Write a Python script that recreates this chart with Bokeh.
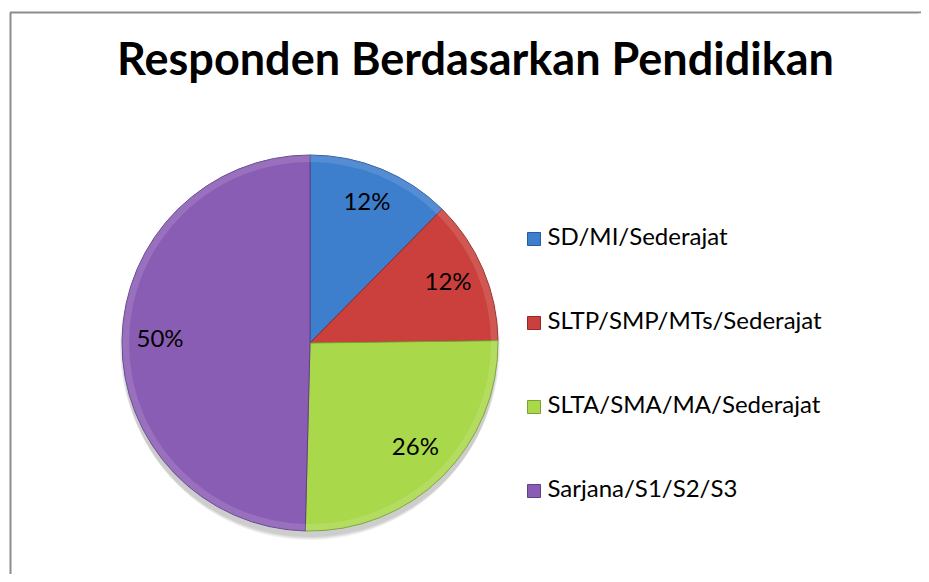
import numpy as np
from bokeh.plotting import figure
from bokeh.models import ColumnDataSource, Range1d
from bokeh.core.properties import value
from bokeh.embed import file_html
from bokeh.resources import INLINE

# ---- data ----
title = "Responden Berdasarkan Pendidikan"
categories = ["SD/MI/Sederajat", "SLTP/SMP/MTs/Sederajat",
              "SLTA/SMA/MA/Sederajat", "Sarjana/S1/S2/S3"]
shares = [12.4, 12.4, 25.6, 49.6]          # percent
colors = ["#3d7ecd", "#cb403c", "#a9d84a", "#8a5db4"]
edge_colors = ["#2a5a99", "#922a27", "#78a032", "#60408a"]

# ---- layout (pixel-like data space) ----
W, H = 921, 574
FONT = "Lato"

def py(page_y):
    return H - page_y

def px(page_x):
    return page_x

p = figure(width=W, height=H, x_range=Range1d(0, W), y_range=Range1d(0, H),
           output_backend="svg", toolbar_location=None,
           min_border=0, min_border_left=0, min_border_right=0,
           min_border_top=0, min_border_bottom=0)
p.axis.visible = False
p.grid.visible = False
p.outline_line_color = None
p.background_fill_color = "white"
p.border_fill_color = "white"

# chart frame (only top and left edges fall inside the window)
p.line(x=[W + 20, px(10), px(10)], y=[py(12), py(12), -20],
       line_color="#8c8c8c", line_width=2)

# title
p.text(x=[px(475)], y=[py(57)], text=[title], text_align="center",
       text_baseline="middle", text_font=value(FONT),
       text_font_style="bold", text_font_size="45px", text_color="black")

# pie
cx, cy, R = px(309.5), py(342.5), 188
frac = np.array(shares) / sum(shares)
ends_cum = np.cumsum(frac)
starts_cum = ends_cum - frac
start_angle = np.pi / 2 - 2 * np.pi * starts_cum
end_angle = np.pi / 2 - 2 * np.pi * ends_cum
mid = (start_angle + end_angle) / 2

# soft shadow below pie
for i in range(4):
    p.ellipse(x=cx, y=cy - 4 - i * 2, width=2 * R + 4 - i * 2,
              height=2 * R + 4 - i * 2, fill_color="#000000",
              fill_alpha=0.05, line_color=None)

src = ColumnDataSource(dict(start=start_angle, end=end_angle, color=colors,
                            edge=edge_colors, cat=categories))
p.wedge(x=cx, y=cy, radius=R, radius_units="screen",
        start_angle="start", end_angle="end", direction="clock",
        fill_color="color", line_color="edge", line_width=1, source=src)

# light bevel rim
p.annular_wedge(x=cx, y=cy, inner_radius=R - 7, outer_radius=R,
                inner_radius_units="screen", outer_radius_units="screen",
                start_angle="start", end_angle="end", direction="clock",
                fill_color="white", fill_alpha=0.12, line_color=None, source=src)

# percentage labels
lr = 150
labels = ["%.0f%%" % s for s in shares]
p.text(x=cx + lr * np.cos(mid), y=cy + lr * np.sin(mid) + 4, text=labels,
       text_align="center", text_baseline="middle", text_font=value(FONT),
       text_font_size="24px", text_color="black")

# legend
row_y = 238.5 + 84 * np.arange(4)
p.rect(x=[px(533.5)] * 4, y=py(row_y), width=13, height=13,
       width_units="screen", height_units="screen",
       fill_color=colors, line_color=edge_colors)
p.text(x=[px(547)] * 4, y=py(row_y - 4), text=categories,
       text_align="left", text_baseline="middle", text_font=value(FONT),
       text_font_size="24px", text_color="black")

# mask at the right edge of the canvas
p.segment(x0=[W - 1], y0=[-5], x1=[W - 1], y1=[py(13)],
          line_color="white", line_width=4)

open("out.html", "w").write(file_html(p, INLINE))
